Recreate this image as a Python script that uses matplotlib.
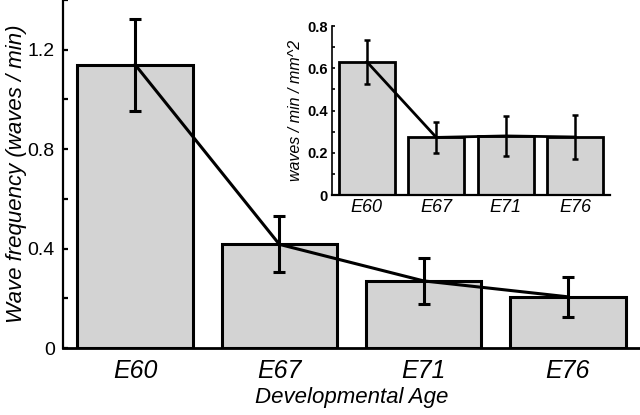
import numpy as np
import matplotlib
matplotlib.use("Agg")
from matplotlib import pyplot as plt
from matplotlib.ticker import MultipleLocator

plt.rcParams["font.family"] = ["Liberation Sans", "DejaVu Sans"]

ages = ["E60", "E67", "E71", "E76"]

freq = [1.14, 0.417, 0.27, 0.206]
freq_err = [0.185, 0.113, 0.092, 0.08]

density = [0.631, 0.273, 0.28, 0.275]
density_err = [0.103, 0.075, 0.093, 0.105]

bar_color = "#d3d3d3"


def style_axis(ax, lw):
    ax.spines["top"].set_visible(False)
    ax.spines["right"].set_visible(False)
    ax.spines["left"].set_linewidth(lw)
    ax.spines["bottom"].set_linewidth(lw + 0.4)
    ax.tick_params(axis="x", length=0)
    ax.tick_params(axis="y", which="both", direction="in", width=lw, length=3.5)


fig = plt.figure(figsize=(6.4, 4.15), dpi=100)

# main panel
ax = fig.add_axes([0.0984, 0.1614, 0.9016, 0.8386])
x = np.arange(len(ages))
ax.bar(x, freq, width=0.8, color=bar_color, edgecolor="black", linewidth=2.2)
ax.errorbar(x, freq, yerr=freq_err, fmt="none", ecolor="black",
            elinewidth=2.2, capsize=4, capthick=2.2)
ax.plot(x, freq, color="black", linewidth=2.2)
ax.set_xlim(-0.5, 3.5)
ax.set_ylim(0, 1.4)
ax.yaxis.set_minor_locator(MultipleLocator(0.2))
ax.set_yticks([0, 0.4, 0.8, 1.2])
ax.set_yticklabels(["0", "0.4", "0.8", "1.2"], fontsize=14)
ax.set_xticks(x)
ax.set_xticklabels(ages, fontsize=18, style="italic")
style_axis(ax, 1.6)
ax.tick_params(axis="x", pad=8)
ax.tick_params(axis="y", pad=6)
ax.set_xlabel("Developmental Age", fontsize=16, style="italic", labelpad=3)
ax.set_ylabel("Wave frequency (waves / min)", fontsize=16, style="italic", labelpad=0)

# inset panel
ins = fig.add_axes([0.519, 0.530, 0.434, 0.407])
ins.bar(x, density, width=0.81, color=bar_color, edgecolor="black", linewidth=2)
ins.errorbar(x, density, yerr=density_err, fmt="none", ecolor="black",
             elinewidth=1.8, capsize=2.5, capthick=1.8)
ins.plot(x, density, color="black", linewidth=2)
ins.set_xlim(-0.5, 3.5)
ins.set_ylim(0, 0.8)
ins.yaxis.set_minor_locator(MultipleLocator(0.1))
ins.set_yticks([0, 0.2, 0.4, 0.6, 0.8])
ins.set_yticklabels(["0", "0.2", "0.4", "0.6", "0.8"], fontsize=10.5, fontweight="bold")
ins.set_xticks(x)
ins.set_xticklabels(ages, fontsize=13, style="italic")
style_axis(ins, 1.2)
ins.tick_params(axis="y", which="both", length=2.5, pad=3)
ins.tick_params(axis="x", pad=3)
ins.set_ylabel("waves / min / mm^2", fontsize=11.5, style="italic", labelpad=3)
ins.patch.set_alpha(0)

fig.savefig("out.png", dpi=100)
